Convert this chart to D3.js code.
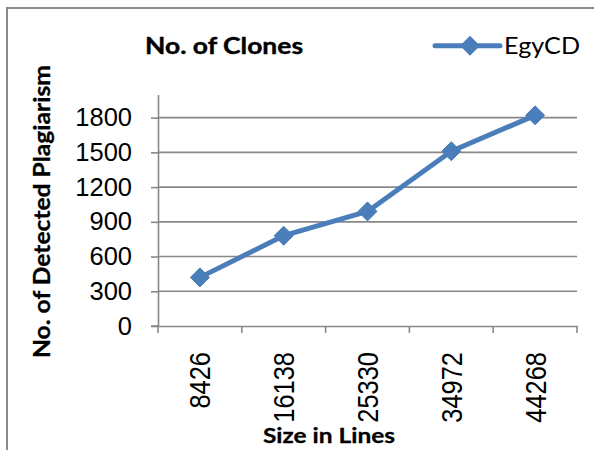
<!DOCTYPE html>
<html>
<head>
<meta charset="utf-8">
<script src="https://cdn.jsdelivr.net/npm/d3@7"></script>
<style>
  html, body { margin: 0; padding: 0; background: #fff; }
  svg { display: block; }
</style>
</head>
<body>
<svg id="chart" width="594" height="450"></svg>
<script>
const categories = ["8426", "16138", "25330", "34972", "44268"];
const seriesName = "EgyCD";
const values = [420, 780, 990, 1510, 1820];
const yTicks = [0, 300, 600, 900, 1200, 1500, 1800];
const titleText = "No. of Clones";
const xTitleText = "Size in Lines";
const yTitleText = "No. of Detected Plagiarism";

const svg = d3.select("#chart");
const blue = "#4a7ebb";
const gridColor = "#878787";

// outer frame (left + top)
svg.append("path")
  .attr("d", "M7,452 L7,8 L596,8")
  .attr("fill", "none").attr("stroke", "#8c8c8c").attr("stroke-width", 2);

const x = d3.scaleBand().domain(categories).range([158, 577]).padding(0);
const y = d3.scaleLinear().domain([0, 2000]).range([326, 94.5]);

// gridlines
svg.append("g").selectAll("line")
  .data(yTicks.filter(d => d > 0))
  .join("line")
  .attr("x1", 158).attr("x2", 577)
  .attr("y1", d => y(d)).attr("y2", d => y(d))
  .attr("stroke", gridColor).attr("stroke-width", 1.6);

// y axis
const yAxis = d3.axisLeft(y).tickValues(yTicks).tickFormat(d3.format("d"))
  .tickSize(7).tickSizeOuter(0).tickPadding(18);
const gy = svg.append("g").attr("transform", "translate(158,0)").call(yAxis);
gy.select(".domain").attr("stroke", gridColor).attr("stroke-width", 1.6);
gy.selectAll(".tick line").attr("stroke", gridColor).attr("stroke-width", 1.6);
gy.selectAll(".tick text")
  .attr("font-family", "'Liberation Sans', Arial, sans-serif")
  .attr("font-size", 25.5).attr("fill", "#000").attr("x", -26);

// x axis
const xAxis = d3.axisBottom(x).tickSize(0).tickSizeOuter(0).tickFormat("");
const gx = svg.append("g").attr("transform", "translate(0,326)").call(xAxis);
gx.select(".domain").attr("stroke", gridColor).attr("stroke-width", 1.6);
gx.append("line").attr("x1", 151).attr("x2", 158).attr("y1", 0).attr("y2", 0)
  .attr("stroke", gridColor).attr("stroke-width", 1.6);
const bounds = categories.map(c => x(c)).concat([x(categories[categories.length - 1]) + x.bandwidth()]);
gx.selectAll(".bt").data(bounds).join("line").attr("class", "bt")
  .attr("x1", d => d).attr("x2", d => d).attr("y1", 0).attr("y2", 7)
  .attr("stroke", gridColor).attr("stroke-width", 1.6);

// x tick labels (rotated)
svg.append("g").selectAll("text")
  .data(categories)
  .join("text")
  .attr("transform", d => `translate(${x(d) + x.bandwidth() / 2 + 10.5},352) rotate(-90)`)
  .attr("text-anchor", "end")
  .attr("font-family", "'Liberation Sans', Arial, sans-serif")
  .attr("font-size", 30)
  .attr("textLength", d => d.length * 14.15)
  .attr("lengthAdjust", "spacingAndGlyphs")
  .attr("fill", "#000")
  .text(d => d);

// line
const line = d3.line()
  .x((d, i) => x(categories[i]) + x.bandwidth() / 2)
  .y(d => y(d));
svg.append("path").datum(values)
  .attr("d", line)
  .attr("fill", "none").attr("stroke", blue).attr("stroke-width", 5)
  .attr("stroke-linejoin", "round");

const diamond = r => `M0,${-r} L${r},0 L0,${r} L${-r},0 Z`;
svg.append("g").selectAll("path")
  .data(values)
  .join("path")
  .attr("transform", (d, i) => `translate(${x(categories[i]) + x.bandwidth() / 2},${y(d)})`)
  .attr("d", diamond(9.5))
  .attr("fill", blue).attr("stroke", blue).attr("stroke-width", 1);

// title
svg.append("text")
  .attr("x", 145).attr("y", 54)
  .attr("font-family", "Lato, 'Open Sans', sans-serif").attr("font-weight", "bold")
  .attr("font-size", 23.5)
  .attr("textLength", 158).attr("lengthAdjust", "spacingAndGlyphs")
  .attr("fill", "#000").attr("stroke", "#000").attr("stroke-width", 0.4)
  .text(titleText);

// legend
const lg = svg.append("g");
lg.append("line").attr("x1", 435).attr("x2", 500).attr("y1", 45.7).attr("y2", 45.7)
  .attr("stroke", blue).attr("stroke-width", 5).attr("stroke-linecap", "round");
lg.append("path").attr("transform", "translate(470,45.7)").attr("d", diamond(10))
  .attr("fill", blue);
lg.append("text").attr("x", 504).attr("y", 54)
  .attr("font-family", "Lato, 'Open Sans', sans-serif")
  .attr("font-size", 22.5)
  .attr("textLength", 76).attr("lengthAdjust", "spacingAndGlyphs")
  .attr("fill", "#000")
  .text(seriesName);

// x axis title
svg.append("text")
  .attr("x", 263).attr("y", 442.5)
  .attr("font-family", "Lato, 'Open Sans', sans-serif").attr("font-weight", "bold")
  .attr("font-size", 21)
  .attr("textLength", 132).attr("lengthAdjust", "spacingAndGlyphs")
  .attr("fill", "#000").attr("stroke", "#000").attr("stroke-width", 0.3)
  .text(xTitleText);

// y axis title
svg.append("text")
  .attr("transform", "translate(50,358) rotate(-90)")
  .attr("font-family", "Lato, 'Open Sans', sans-serif").attr("font-weight", "bold")
  .attr("font-size", 23)
  .attr("textLength", 293).attr("lengthAdjust", "spacingAndGlyphs")
  .attr("fill", "#000").attr("stroke", "#000").attr("stroke-width", 0.3)
  .text(yTitleText);
</script>
</body>
</html>
